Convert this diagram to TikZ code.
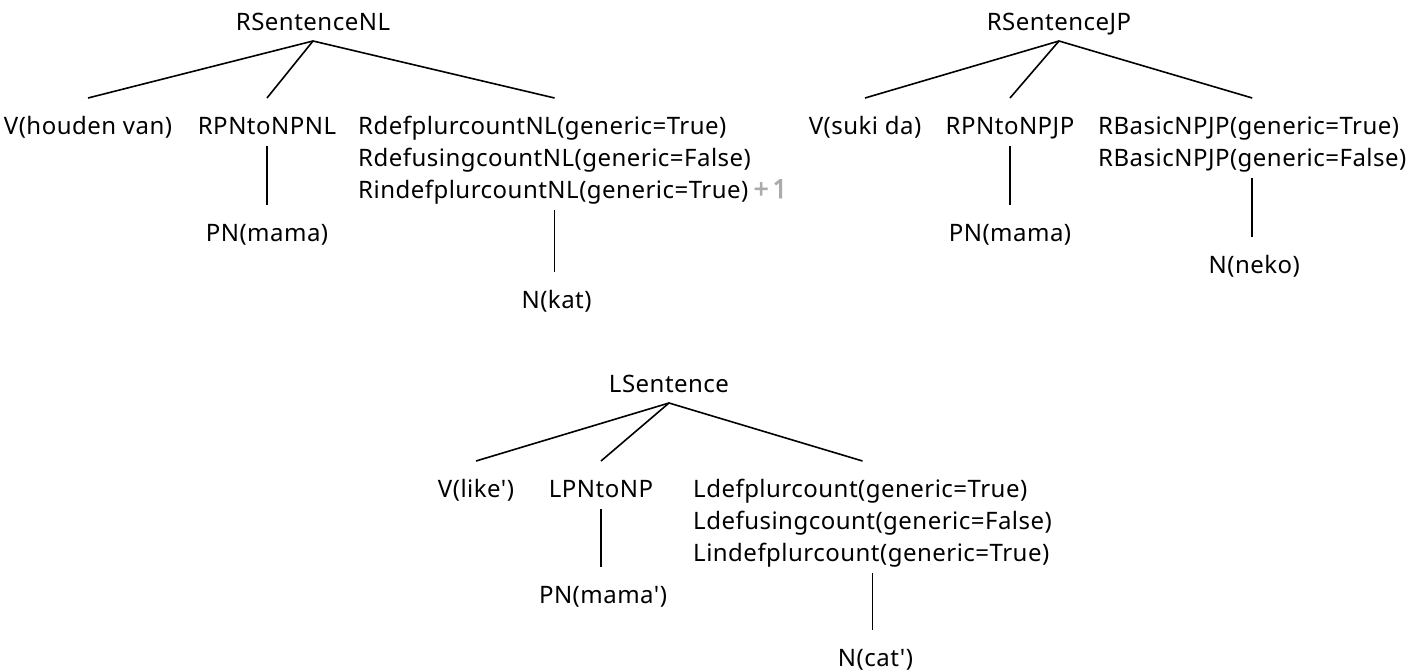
\documentclass[tikz,border=0pt]{standalone}
\usepackage{fontspec}
\setmainfont{Noto Sans}[Ligatures=TeXOff, LetterSpace=2]
\newfontfamily\countfont{Noto Sans}[FakeBold=3]
\usetikzlibrary{calc,fit}
\definecolor{countgray}{HTML}{ABABAB}
\begin{document}
\begin{tikzpicture}[x=1pt,y=-1pt,
  lbl/.style={inner sep=0pt, font=\fontsize{24}{32}\selectfont},
  more/.style={inner sep=0pt, text=countgray, font=\fontsize{26}{32}\countfont},
  group/.style={inner sep=0pt},
  branch/.style={line width=1.6pt, black}]
\useasboundingbox (0,0) rectangle (1422,672);

% Dutch tree
\node[lbl, anchor=base] (nlroot) at (313,30) {RSentenceNL};
\node[lbl, anchor=base] (nlv) at (88,134) {V(houden van)};
\node[lbl, anchor=base] (nlpn) at (267,134) {RPNtoNPNL};
\node[lbl, anchor=base west] (nlc1) at (358,134) {RdefplurcountNL(generic=True)};
\node[lbl, anchor=base west] (nlc2) at (358,166) {RdefusingcountNL(generic=False)};
\node[lbl, anchor=base west] (nlc3) at (358,198) {RindefplurcountNL(generic=True)};
\node[group, fit=(nlc1)(nlc2)(nlc3)] (nlc) {};
\node[more, anchor=base west] (nlmore) at ($(nlc3.base east)+(5,0)$) {+\kern4pt1};
\node[lbl, anchor=base] (nlmama) at (267,241) {PN(mama)};
\node[lbl, anchor=base] (nlkat) at ($(nlc.north |- 0,308)+(2,0)$) {N(kat)};

\draw[branch] ($(nlroot.base)+(0,11)$) -- ($(nlv.base)+(0,-36)$);
\draw[branch] ($(nlroot.base)+(0,11)$) -- ($(nlpn.base)+(0,-36)$);
\draw[branch] ($(nlroot.base)+(0,11)$) -- ($(nlc.north |- nlc1.base)+(0,-36)$);
\draw[branch] ($(nlpn.base)+(0,12)$) -- ($(nlpn.base |- nlmama.base)+(0,-36)$);
\draw[branch] ($(nlc.north |- nlc3.base)+(0,12)$) -- ($(nlc.north |- nlkat.base)+(0,-36)$);

% Japanese tree
\node[lbl, anchor=base] (jproot) at (1059,30) {RSentenceJP};
\node[lbl, anchor=base] (jpv) at (865,134) {V(suki da)};
\node[lbl, anchor=base] (jppn) at (1010,134) {RPNtoNPJP};
\node[lbl, anchor=base west] (jpc1) at (1098,134) {RBasicNPJP(generic=True)};
\node[lbl, anchor=base west] (jpc2) at (1098,166) {RBasicNPJP(generic=False)};
\node[group, fit=(jpc1)(jpc2)] (jpc) {};
\node[lbl, anchor=base] (jpmama) at (1010,241) {PN(mama)};
\node[lbl, anchor=base] (jpneko) at ($(jpc.north |- 0,273)+(2,0)$) {N(neko)};

\draw[branch] ($(jproot.base)+(0,11)$) -- ($(jpv.base)+(0,-36)$);
\draw[branch] ($(jproot.base)+(0,11)$) -- ($(jppn.base)+(0,-36)$);
\draw[branch] ($(jproot.base)+(0,11)$) -- ($(jpc.north |- jpc1.base)+(0,-36)$);
\draw[branch] ($(jppn.base)+(0,12)$) -- ($(jppn.base |- jpmama.base)+(0,-36)$);
\draw[branch] ($(jpc.north |- jpc2.base)+(0,12)$) -- ($(jpc.north |- jpneko.base)+(0,-36)$);

% Logical tree
\node[lbl, anchor=base] (lroot) at (669,392) {LSentence};
\node[lbl, anchor=base] (lv) at (476,497) {V(like')};
\node[lbl, anchor=base] (lpn) at (601,497) {LPNtoNP};
\node[lbl, anchor=base west] (lc1) at (693,497) {Ldefplurcount(generic=True)};
\node[lbl, anchor=base west] (lc2) at (693,529) {Ldefusingcount(generic=False)};
\node[lbl, anchor=base west] (lc3) at (693,561) {Lindefplurcount(generic=True)};
\node[group, fit=(lc1)(lc2)(lc3)] (lc) {};
\node[lbl, anchor=base] (lmama) at (603,603) {PN(mama')};
\node[lbl, anchor=base] (lcat) at ($(lc.north |- 0,666)+(3,0)$) {N(cat')};

\draw[branch] ($(lroot.base)+(0,11)$) -- ($(lv.base)+(0,-36)$);
\draw[branch] ($(lroot.base)+(0,11)$) -- ($(lpn.base)+(0,-36)$);
\draw[branch] ($(lroot.base)+(0,11)$) -- ($(lc.north |- lc1.base)+(-10,-36)$);
\draw[branch] ($(lpn.base)+(0,12)$) -- ($(lpn.base |- lmama.base)+(0,-36)$);
\draw[branch] ($(lc.north |- lc3.base)+(0,12)$) -- ($(lc.north |- lcat.base)+(0,-36)$);
\end{tikzpicture}
\end{document}
